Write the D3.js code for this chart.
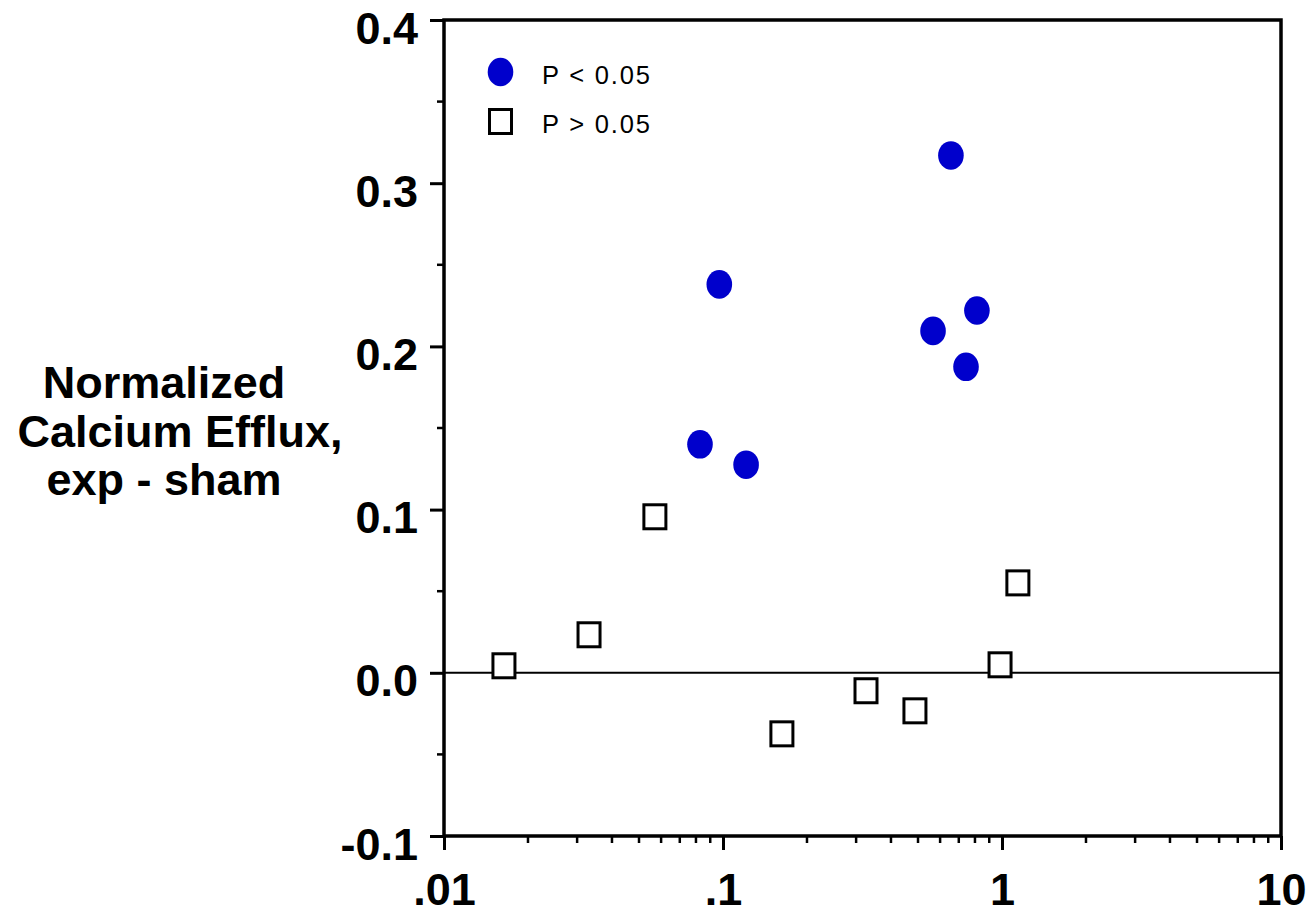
<!DOCTYPE html>
<html><head><meta charset="utf-8">
<script src="https://cdn.jsdelivr.net/npm/d3@7"></script>
<style>body{margin:0;background:#fff}svg{display:block}text{font-family:Arial,"Liberation Sans",sans-serif}</style>
</head><body>
<svg id="chart" width="1310" height="915"></svg>
<script>
const sigX = [0.656, 0.097, 0.813, 0.566, 0.743, 0.0827, 0.121];
const sigY = [0.317, 0.238, 0.222, 0.2095, 0.1875, 0.140, 0.1275];
const nsX = [0.0164, 0.0331, 0.057, 0.1626, 0.3255, 0.4875, 0.984, 1.14];
const nsY = [0.0043, 0.0233, 0.0956, -0.0374, -0.011, -0.0233, 0.0049, 0.0551];
const yTicks = [-0.1, 0.0, 0.1, 0.2, 0.3, 0.4];
const yTickLabels = ["-0.1", "0.0", "0.1", "0.2", "0.3", "0.4"];
const xTicks = [0.01, 0.1, 1, 10];
const xTickLabels = [".01", ".1", "1", "10"];
const legendLabels = ["P < 0.05", "P > 0.05"];
const yTitle = ["Normalized", "Calcium Efflux,", "exp - sham"];

const svg = d3.select("#chart");
const x = d3.scaleLog().domain([0.01, 10]).range([444, 1281]);
const y = d3.scaleLinear().domain([-0.1, 0.4]).range([836, 20]);
const blue = "#0000cc";

// minor ticks
const xMinor = [];
[0.01, 0.1, 1].forEach(d => { for (let k = 2; k <= 9; k++) xMinor.push(d * k); });
svg.append("g").selectAll("line").data(xMinor).join("line")
  .attr("x1", d => x(d)).attr("x2", d => x(d)).attr("y1", 836).attr("y2", 843)
  .attr("stroke", "#000").attr("stroke-width", 2.5);
const yMinor = [-0.05, 0.05, 0.15, 0.25, 0.35];
svg.append("g").selectAll("line").data(yMinor).join("line")
  .attr("x1", 437).attr("x2", 444).attr("y1", d => y(d)).attr("y2", d => y(d))
  .attr("stroke", "#000").attr("stroke-width", 2.5);

// axes
const yAxis = d3.axisLeft(y).tickValues(yTicks).tickFormat((d, i) => yTickLabels[i]).tickSize(14).tickPadding(12);
const gy = svg.append("g").attr("transform", "translate(444,0)").call(yAxis);
gy.select(".domain").remove();
gy.selectAll(".tick line").attr("stroke-width", 3);
gy.selectAll(".tick text").attr("font-size", 45).attr("font-weight", "bold").attr("fill", "#000")
  .attr("dy", 23).attr("font-family", "Arial, 'Liberation Sans', sans-serif");

const xAxis = d3.axisBottom(x).tickValues(xTicks).tickFormat((d, i) => xTickLabels[i]).tickSize(14).tickPadding(23);
const gx = svg.append("g").attr("transform", "translate(0,836)").call(xAxis);
gx.select(".domain").remove();
gx.selectAll(".tick line").attr("stroke-width", 3);
gx.selectAll(".tick text").attr("font-size", 45).attr("font-weight", "bold").attr("fill", "#000")
  .attr("font-family", "Arial, 'Liberation Sans', sans-serif");

// frame
svg.append("rect").attr("x", 444).attr("y", 20).attr("width", 1281 - 444).attr("height", 836 - 20)
  .attr("fill", "none").attr("stroke", "#000").attr("stroke-width", 3.5);

// zero line
svg.append("line").attr("x1", 444).attr("x2", 1281).attr("y1", y(0)).attr("y2", y(0))
  .attr("stroke", "#000").attr("stroke-width", 2);

// points
svg.append("g").selectAll("rect").data(nsX.map((d, i) => [d, nsY[i]])).join("rect")
  .attr("x", d => x(d[0]) - 11).attr("y", d => y(d[1]) - 12)
  .attr("width", 22).attr("height", 24)
  .attr("fill", "#fff").attr("stroke", "#000").attr("stroke-width", 3);
svg.append("g").selectAll("ellipse").data(sigX.map((d, i) => [d, sigY[i]])).join("ellipse")
  .attr("cx", d => x(d[0])).attr("cy", d => y(d[1]))
  .attr("rx", 12.8).attr("ry", 14.3).attr("fill", blue);

// legend
svg.append("ellipse").attr("cx", 500.5).attr("cy", 72).attr("rx", 12.8).attr("ry", 14.3).attr("fill", blue);
svg.append("rect").attr("x", 489.5).attr("y", 109.5).attr("width", 22).attr("height", 24)
  .attr("fill", "#fff").attr("stroke", "#000").attr("stroke-width", 3);
svg.append("g").selectAll("text").data(legendLabels).join("text")
  .attr("x", 542).attr("y", (d, i) => 84 + i * 49)
  .attr("font-size", 25.5).attr("letter-spacing", 1.8).attr("fill", "#000").text(d => d);

// y title
const titleX = [164, 180, 164];
svg.append("g").selectAll("text").data(yTitle).join("text")
  .attr("x", (d, i) => titleX[i]).attr("y", (d, i) => 398 + i * 48.5)
  .attr("text-anchor", "middle")
  .attr("font-size", 45).attr("font-weight", "bold").attr("fill", "#000")
  .text(d => d);
</script>
</body></html>
